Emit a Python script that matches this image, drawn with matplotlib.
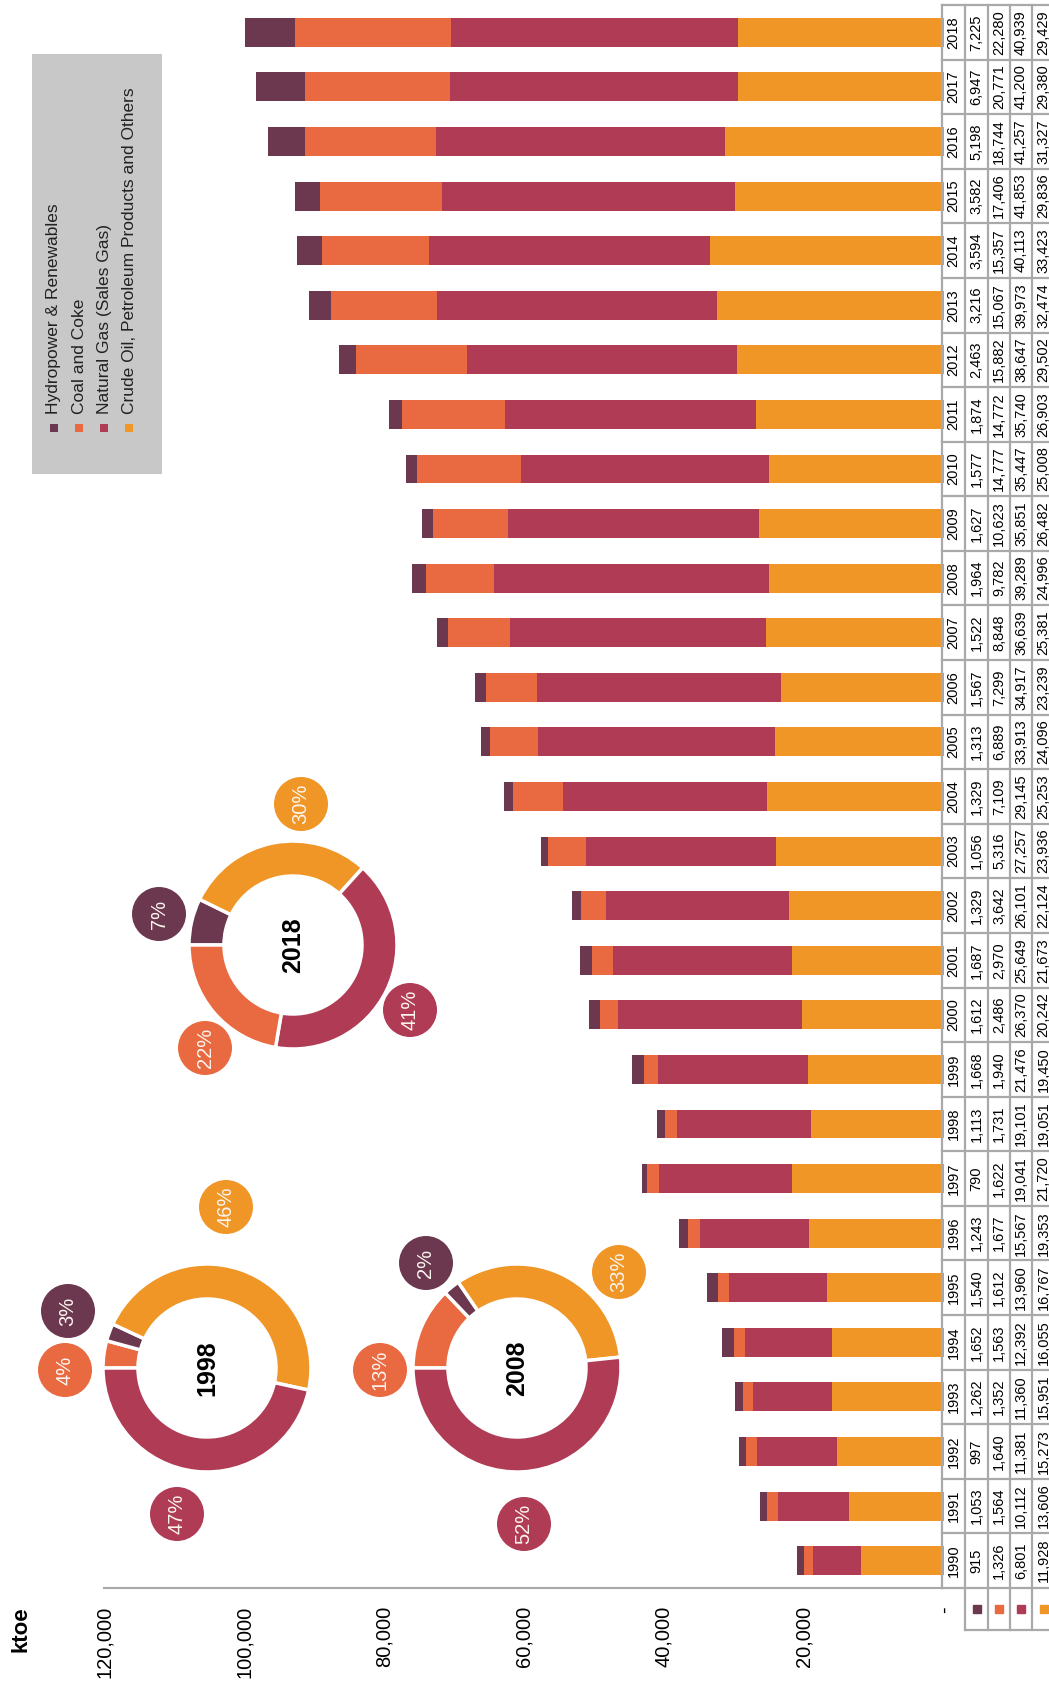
import matplotlib
matplotlib.use("Agg")
import matplotlib.pyplot as plt
from matplotlib import font_manager
from matplotlib.patches import Wedge, Circle, Rectangle
from matplotlib.transforms import blended_transform_factory as blend

# data (ktoe)
years = list(range(1990, 2019))
hydro = [915, 1053, 997, 1262, 1652, 1540, 1243, 790, 1113, 1668, 1612, 1687, 1329, 1056, 1329,
         1313, 1567, 1522, 1964, 1627, 1577, 1874, 2463, 3216, 3594, 3582, 5198, 6947, 7225]
coal = [1326, 1564, 1640, 1352, 1563, 1612, 1677, 1622, 1731, 1940, 2486, 2970, 3642, 5316, 7109,
        6889, 7299, 8848, 9782, 10623, 14777, 14772, 15882, 15067, 15357, 17406, 18744, 20771, 22280]
gas = [6801, 10112, 11381, 11360, 12392, 13960, 15567, 19041, 19101, 21476, 26370, 25649, 26101, 27257, 29145,
       33913, 34917, 36639, 39289, 35851, 35447, 35740, 38647, 39973, 40113, 41853, 41257, 41200, 40939]
oil = [11928, 13606, 15273, 15951, 16055, 16767, 19353, 21720, 19051, 19450, 20242, 21673, 22124, 23936, 25253,
       24096, 23239, 25381, 24996, 26482, 25008, 26903, 29502, 32474, 33423, 29836, 31327, 29380, 29429]
series = [hydro, coal, gas, oil]
names = ["Hydropower & Renewables", "Coal and Coke", "Natural Gas (Sales Gas)",
         "Crude Oil, Petroleum Products and Others"]
colors = ["#6b3850", "#e96a40", "#b03b55", "#f09627"]

ticks = list(range(0, 120001, 20000))
donut_years = [1998, 2008, 2018]
# labels as printed (hydro, coal, gas, oil)
donut_pct = {1998: ["3%", "4%", "47%", "46%"],
             2008: ["2%", "13%", "52%", "33%"],
             2018: ["7%", "22%", "41%", "30%"]}

installed = {f.name for f in font_manager.fontManager.ttflist}
NARROW = "Liberation Sans Narrow" if "Liberation Sans Narrow" in installed else "Liberation Sans"
plt.rcParams["font.family"] = [NARROW, "DejaVu Sans"]

W, H = 1049, 1688
fig = plt.figure(figsize=(W / 100, H / 100), dpi=100)
ov = fig.add_axes([0, 0, 1, 1])
ov.set_xlim(0, W)
ov.set_ylim(0, H)
ov.axis("off")

ax = fig.add_axes([104 / W, 1 - 1588 / H, 840 / W, 1583 / H])
ax.patch.set_visible(False)
ax.set_xlim(120000, 0)
ax.set_ylim(-0.5, 28.5)
idx = list(range(len(years)))

base = [0] * len(years)
for k in [3, 2, 1, 0]:
    ax.barh(idx, series[k], left=base, height=0.53, color=colors[k], linewidth=0)
    base = [b + v for b, v in zip(base, series[k])]

for s in ["top", "left", "right"]:
    ax.spines[s].set_visible(False)
ax.spines["bottom"].set_color("#a8a8a8")
ax.spines["bottom"].set_linewidth(1.5)
ax.set_xticks([])
ax.set_yticks([])

# value labels under the axis
tr = blend(ax.transData, ov.transData)
for v in ticks:
    lab = "-" if v == 0 else f"{v:,}"
    ax.text(v, H - 1606, lab, transform=tr, rotation=90, ha="center", va="top", fontsize=14.5)
ov.text(21, H - 1606, "ktoe", rotation=90, ha="center", va="top", fontsize=16, weight="bold")

# data table
tt = blend(ov.transData, ax.transData)
edges = [942, 965, 988, 1010, 1032, 1055]
centers = [(a + b) / 2 for a, b in zip(edges[:-1], edges[1:])]
grid = dict(color="#a9a9a9", lw=1.6, transform=tt, clip_on=False)
for i, yr in enumerate(years):
    ax.text(centers[0], i, str(yr), transform=tt, rotation=90, ha="center", va="center", fontsize=10.5)
    for k in range(4):
        ax.text(centers[k + 1], i, f"{series[k][i]:,}", transform=tt, rotation=90,
                ha="center", va="center", fontsize=10.5)
for k in range(len(years) + 1):
    ax.plot([942, 1055], [k - 0.5, k - 0.5], **grid)
ax.plot([942, 942], [28.5, -0.5], **grid)
for x in edges[1:5]:
    ax.plot([x, x], [28.5, -1.27], **grid)
ax.plot([965, 1055], [-1.27, -1.27], **grid)
for k in range(4):
    ax.plot(centers[k + 1], -0.885, marker="s", ms=6, color=colors[k], transform=tt, clip_on=False)

# donuts
donut_layout = {
    1998: dict(c=(207, 1368), start=0, bub=[(68, 1311), (65, 1370), (177, 1514), (226, 1207)]),
    2008: dict(c=(517, 1368), start=0, bub=[(426, 1263), (380, 1370), (524, 1524), (619, 1272)]),
    2018: dict(c=(293, 945), start=1, bub=[(159, 914), (205, 1048), (410, 1010), (301, 804)]),
}
cycle = [1, 0, 3, 2]
for yr in donut_years:
    lay = donut_layout[yr]
    yi = years.index(yr)
    vals = [s[yi] for s in series]
    total = sum(vals)
    cx, cy = lay["c"][0], H - lay["c"][1]
    order = cycle[lay["start"]:] + cycle[:lay["start"]]
    ang = 180
    for k in order:
        span = 360 * vals[k] / total
        ov.add_patch(Wedge((cx, cy), 104, ang - span, ang, width=35, fc=colors[k], ec="white", lw=2.5))
        ang -= span
    ov.text(cx, cy, str(yr), rotation=90, ha="center", va="center", fontsize=18, weight="bold")
    for k in range(4):
        bx, by = lay["bub"][k]
        ov.add_patch(Circle((bx, H - by), 27, fc=colors[k], ec="none"))
        ov.text(bx, H - by, donut_pct[yr][k], rotation=90, ha="center", va="center",
                fontsize=14.5, color="#fbf4ee")

# legend
ov.add_patch(Rectangle((32, H - 474), 130, 420, fc="#c8c8c8", ec="none"))
for k, x in enumerate([54, 79, 104, 129]):
    ov.add_patch(Rectangle((x - 4, H - 432), 8, 8, fc=colors[k], ec="none"))
    ov.text(x, H - 414, names[k], rotation=90, ha="center", va="bottom", fontsize=12.5, color="#222222")

fig.savefig("out.png", dpi=100)
